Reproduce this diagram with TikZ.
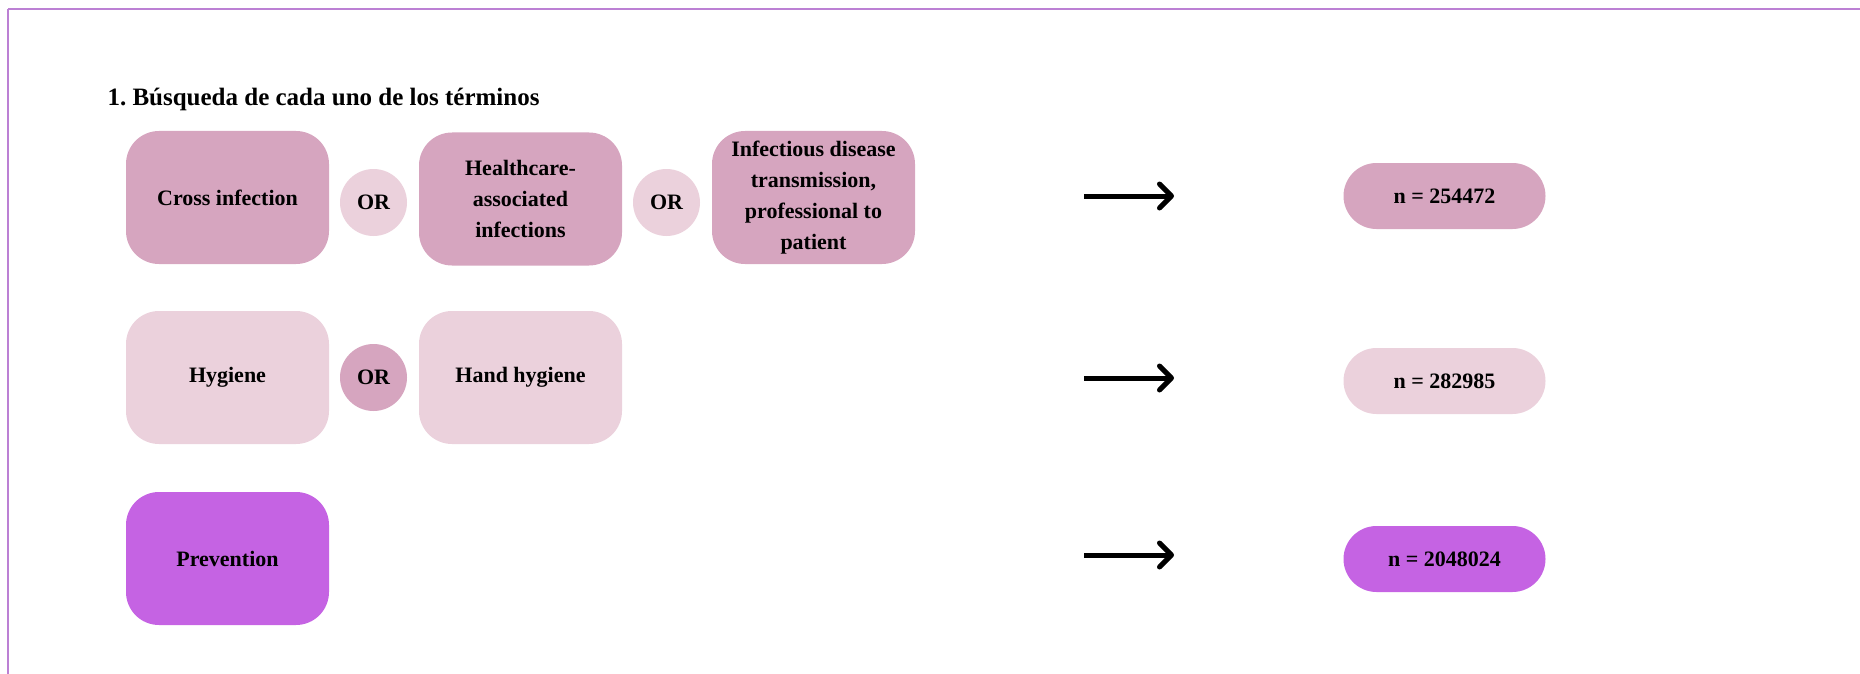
\documentclass[tikz,border=0pt]{standalone}
\usepackage{fontspec}
\setmainfont{Liberation Serif}
\usetikzlibrary{arrows.meta}
\definecolor{rose}{RGB}{214,165,191}
\definecolor{lightrose}{RGB}{235,209,220}
\definecolor{violetbox}{RGB}{197,99,227}
\definecolor{framecol}{RGB}{188,128,212}
\frenchspacing
\begin{document}
\begin{tikzpicture}[x=1pt,y=-1pt,
  txt/.style={font=\bfseries\fontsize{22}{31}\selectfont, text=black},
  term/.style={txt, rounded corners=33pt, minimum width=203pt, minimum height=133pt, inner sep=0pt, align=center},
  orc/.style={txt, circle, minimum size=67pt, inner sep=0pt},
  countbox/.style={txt, rounded corners=33pt, minimum width=202pt, minimum height=66pt, inner sep=0pt},
  arr/.style={line width=5pt, -{Straight Barb[length=12pt,width=24pt,round]}}]
\useasboundingbox (0,0) rectangle (1860,674);
\draw[framecol, line width=2pt] (8,9.5) -- (1880,9.5) (8,9.5) -- (8,700);
\node[anchor=base west, font=\bfseries\fontsize{25}{30}\selectfont] (title) at (104,106) {1. Búsqueda de cada uno de los términos};
% row 1
\node[term, fill=rose] (cross) at (227.5,197.5) {Cross infection};
\node[orc, fill=lightrose] (or1) at (373.5,202.5) {OR};
\node[term, fill=rose] (health) at (520.5,199) {Healthcare-\\associated\\infections};
\node[orc, fill=lightrose] (or2) at (666.5,202.5) {OR};
\node[term, fill=rose] (infect) at (813.5,197.5) {Infectious disease\\transmission,\\professional to\\patient};
% row 2
\node[term, fill=lightrose] (hyg) at (227.5,377.5) {Hygiene};
\node[orc, fill=rose] (or3) at (373.5,377.5) {OR};
\node[term, fill=lightrose] (hand) at (520.5,377.5) {Hand hygiene};
% row 3
\node[term, fill=violetbox] (prev) at (227.5,558.5) {Prevention};
% counts
\node[countbox, fill=rose] (n1) at (1444.5,196) {n = 254472};
\node[countbox, fill=lightrose] (n2) at (1444.5,381) {n = 282985};
\node[countbox, fill=violetbox] (n3) at (1444.5,559) {n = 2048024};
% arrows
\coordinate (a1s) at (1084,196); \coordinate (a1e) at (1174,196);
\coordinate (a2s) at (1084,378); \coordinate (a2e) at (1174,378);
\coordinate (a3s) at (1084,555); \coordinate (a3e) at (1174,555);
\draw[arr] (a1s) -- (a1e);
\draw[arr] (a2s) -- (a2e);
\draw[arr] (a3s) -- (a3e);
\end{tikzpicture}
\end{document}
